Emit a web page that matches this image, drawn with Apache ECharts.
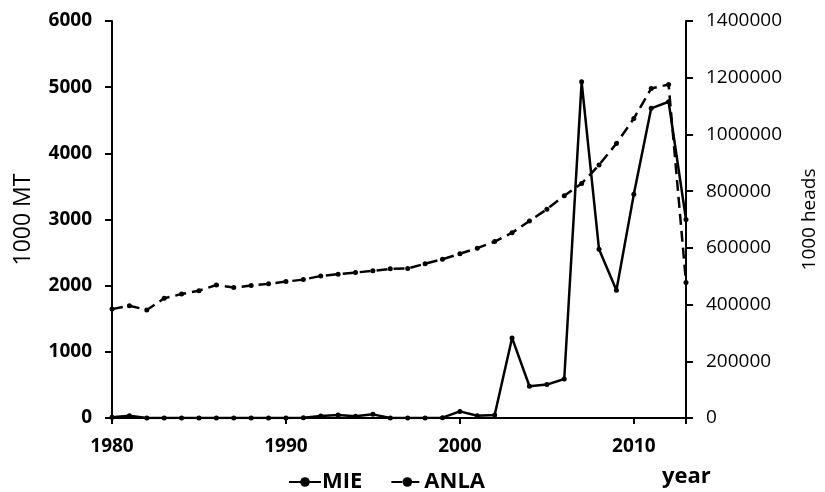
<!DOCTYPE html>
<html>
<head>
<meta charset="utf-8">
<script src="https://cdn.jsdelivr.net/npm/echarts@6/dist/echarts.min.js"></script>
<style>html,body{margin:0;padding:0;background:#fff;}#c{width:825px;height:492px;}</style>
</head>
<body>
<div id="c"></div>
<script>
var years = [1980,1981,1982,1983,1984,1985,1986,1987,1988,1989,1990,1991,1992,1993,1994,1995,1996,1997,1998,1999,2000,2001,2002,2003,2004,2005,2006,2007,2008,2009,2010,2011,2012,2013];
var mie = [10,35,0,0,0,0,0,0,0,0,0,5,30,45,25,55,0,0,0,5,100,35,45,1210,480,505,590,5080,2550,1930,3380,4680,4780,3000];
var anla = [384000,396000,381000,422000,437000,449000,469000,460000,467000,473000,481000,488000,501000,507000,513000,519000,526000,527000,544000,560000,579000,599000,622000,653000,695000,736000,784000,827000,892000,968000,1056000,1162000,1176000,478000];
var leftTicks = {min:0, max:6000, interval:1000};
var rightTicks = {min:0, max:1400000, interval:200000};
var xTicks = {min:1980, max:2013, interval:10};

function pairs(v){ return years.map(function(y,i){ return [y, v[i]]; }); }
function plain(v){ return String(v); }

var chart = echarts.init(document.getElementById('c'));
var ff = 'Open Sans';
chart.setOption({
  animation:false,
  backgroundColor:'#fff',
  grid:{left:112, right:139, top:21, bottom:74, containLabel:false, outerBoundsMode:'none'},
  xAxis:{
    type:'value', min:xTicks.min, max:xTicks.max, interval:xTicks.interval,
    axisLine:{lineStyle:{color:'#000', width:2}},
    axisTick:{show:true, inside:false, length:6, lineStyle:{color:'#000', width:2}},
    splitLine:{show:false},
    axisLabel:{margin:19, color:'#000', fontFamily:ff, fontSize:19, fontWeight:'bold',
      formatter:function(v){ return (v-1980)%10===0 ? String(v) : ''; }}
  },
  yAxis:[{
    type:'value', position:'left', min:leftTicks.min, max:leftTicks.max, interval:leftTicks.interval,
    name:'1000 MT', nameLocation:'middle', nameGap:77,
    nameTextStyle:{color:'#000', fontFamily:ff, fontSize:23},
    axisLine:{show:true, lineStyle:{color:'#000', width:2}},
    axisTick:{show:true, length:7, lineStyle:{color:'#000', width:2}},
    splitLine:{show:false},
    axisLabel:{margin:20, color:'#000', fontFamily:ff, fontSize:19, fontWeight:'bold', formatter:plain}
  },{
    type:'value', position:'right', min:rightTicks.min, max:rightTicks.max, interval:rightTicks.interval,
    name:'1000 heads', nameLocation:'middle', nameGap:114,
    nameTextStyle:{color:'#000', fontFamily:ff, fontSize:19},
    axisLine:{show:true, lineStyle:{color:'#000', width:2}},
    axisTick:{show:true, length:7, lineStyle:{color:'#000', width:2}},
    splitLine:{show:false},
    axisLabel:{margin:20, color:'#000', fontFamily:ff, fontSize:19, formatter:plain}
  }],
  legend:{
    left:283, top:466, itemGap:28, itemWidth:32, itemHeight:12,
    textStyle:{color:'#000', fontFamily:ff, fontSize:22, fontWeight:'bold', padding:[0,0,0,-4]},
    data:['MIE','ANLA']
  },
  graphic:[{type:'text', left:662, top:466, style:{text:'year', fill:'#000', font:'bold 22px "Open Sans"'}}],
  series:[{
    name:'MIE', type:'line', yAxisIndex:0, data:pairs(mie),
    symbol:'circle', symbolSize:5, showSymbol:true,
    lineStyle:{color:'#000', width:2.5},
    itemStyle:{color:'#000'}
  },{
    name:'ANLA', type:'line', yAxisIndex:1, data:pairs(anla),
    symbol:'circle', symbolSize:5, showSymbol:true,
    lineStyle:{color:'#000', width:2.5, type:[11,6]},
    itemStyle:{color:'#000'}
  }]
});
</script>
</body>
</html>
